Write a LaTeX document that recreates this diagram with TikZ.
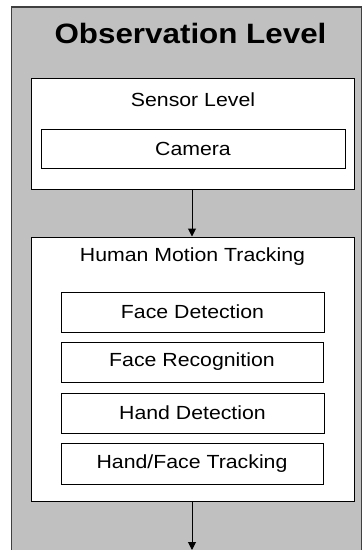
\documentclass[tikz,border=0pt]{standalone}
\usepackage{fontspec}
\usepackage{graphicx}
\setmainfont{Liberation Sans}
\usetikzlibrary{arrows.meta}
\definecolor{panelgray}{HTML}{C0C0C0}
\definecolor{edgegray}{HTML}{404040}
\newcommand\wtxt[1]{\scalebox{1.12}[1]{#1}}
\tikzset{
  bigbox/.style={draw=black, fill=white, line width=1pt, rectangle, inner sep=0pt, minimum width=323pt},
  subbox/.style={draw=black, fill=white, line width=1pt, rectangle, inner sep=0pt, minimum width=263pt, minimum height=40pt, font=\fontsize{19}{22}\selectfont},
  lbl/.style={inner sep=0pt, font=\fontsize{19}{22}\selectfont},
  flow/.style={line width=1pt, -{Triangle[width=8pt,length=8pt]}}
}
\begin{document}
\begin{tikzpicture}[x=1pt,y=-1pt]
\useasboundingbox (0,0) rectangle (363,550);
\fill[white] (0,0) rectangle (363,550);
\fill[panelgray] (11.5,7) rectangle (361.5,551);
\draw[edgegray, line width=1.2pt] (11.5,551) -- (11.5,7) -- (361.5,7) -- (361.5,551);
\node[inner sep=0pt, font=\bfseries\fontsize{28}{30}\selectfont] (title) at (190.5,33) {\wtxt{Observation Level}};
\node[bigbox, minimum height=111pt] (sensor) at (192.5,133.5) {};
\node[lbl] (sensorlbl) at (193,100) {\wtxt{Sensor Level}};
\node[subbox, minimum width=304pt, minimum height=39pt] (camera) at (193,148.5) {\wtxt{Camera}};
\node[bigbox, minimum height=264pt] (hmt) at (192.5,369) {};
\node[lbl] (hmtlbl) at (192.5,257) {\wtxt{Human Motion Tracking}};
\node[subbox] (fd) at (192.5,312) {\wtxt{Face Detection}};
\node[subbox, minimum width=262pt] (fr) at (192,362) {\wtxt{Face Recognition}};
\node[subbox] (hd) at (192.5,413) {\wtxt{Hand Detection}};
\node[subbox, minimum width=262pt, minimum height=41pt] (hft) at (192,463.5) {\wtxt{Hand/Face Tracking}};
\coordinate (out) at (192,550);
\draw[flow] (sensor.south -| 192,0) -- (hmt.north -| 192,0);
\draw[flow] (hmt.south -| out) -- (out);
\end{tikzpicture}
\end{document}
